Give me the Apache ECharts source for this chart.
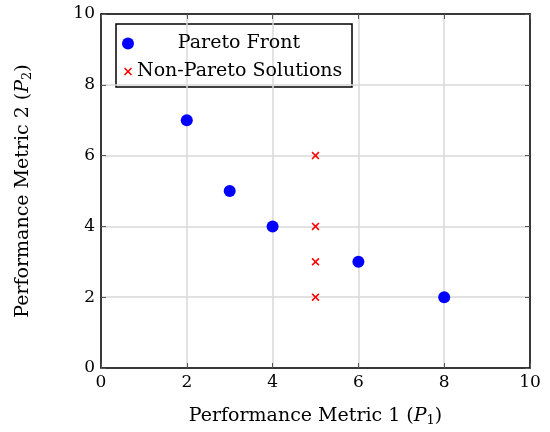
<!DOCTYPE html>
<html>
<head>
<meta charset="utf-8">
<script src="https://cdn.jsdelivr.net/npm/echarts@6/dist/echarts.min.js"></script>
<style>
html, body { margin: 0; padding: 0; background: #fff; }
#chart { width: 550px; height: 432px; }
</style>
</head>
<body>
<div id="chart"></div>
<script>
// 数据
var paretoFront = [[2, 7], [3, 5], [4, 4], [6, 3], [8, 2]];
var nonPareto = [[5, 6], [5, 4], [5, 3], [5, 2]];
var xTicks = [0, 2, 4, 6, 8, 10];
var yTicks = [0, 2, 4, 6, 8, 10];
var seriesNames = ['Pareto Front', 'Non-Pareto Solutions'];

var font = 'DejaVu Serif';
var crossPath = 'path://M0,1.4L1.4,0L5,3.6L8.6,0L10,1.4L6.4,5L10,8.6L8.6,10L5,6.4L1.4,10L0,8.6L3.6,5Z';

var nameStyle = {
    fontFamily: font, fontSize: 19, color: '#000',
    rich: {
        i: { fontFamily: font, fontStyle: 'italic', fontSize: 19, color: '#000' },
        s: { fontFamily: font, fontSize: 13, color: '#000', padding: [8, 0, 0, 0] }
    }
};

function frameAxis(pos) {
    return {
        type: 'value', position: pos,
        min: 0, max: 10, interval: 2,
        axisLine: { show: true, onZero: false, lineStyle: { color: '#000', width: 1.5 } },
        axisTick: { show: true, inside: true, length: 5, lineStyle: { color: '#555' } },
        axisLabel: { show: false },
        splitLine: { show: false }
    };
}

var myChart = echarts.init(document.getElementById('chart'));
var option = {
    animation: false,
    textStyle: { fontFamily: font },
    grid: { left: 101, right: 20, top: 14, bottom: 64 },
    legend: [{
        data: [{ name: seriesNames[0], icon: 'circle' }],
        left: 117, top: 29,
        itemWidth: 12, itemHeight: 12,
        formatter: '{a|' + seriesNames[0] + '}',
        textStyle: {
            fontFamily: font, fontSize: 19, color: '#000',
            rich: { a: { fontFamily: font, fontSize: 19, color: '#000', width: 200, align: 'center' } }
        }
    }, {
        data: [{ name: seriesNames[1], icon: crossPath }],
        left: 119, top: 57,
        itemWidth: 8, itemHeight: 8,
        textStyle: { fontFamily: font, fontSize: 19, color: '#000' }
    }],
    graphic: [{
        type: 'rect',
        shape: { x: 116, y: 24, width: 236, height: 63 },
        style: { fill: '#fff', stroke: '#000', lineWidth: 1.5 },
        z: 0
    }],
    xAxis: [{
        type: 'value',
        min: xTicks[0], max: xTicks[xTicks.length - 1], interval: 2,
        name: 'Performance Metric 1 ({i|P}{s|1})',
        nameLocation: 'middle',
        nameGap: 38,
        nameTextStyle: nameStyle,
        axisLine: { show: true, lineStyle: { color: '#000', width: 1.5 } },
        axisTick: { show: true, inside: true, length: 5, lineStyle: { color: '#555' } },
        axisLabel: { fontFamily: font, fontSize: 17, color: '#000', margin: 6 },
        splitLine: { show: true, lineStyle: { color: '#d9d9d9', width: 1.5 } }
    }, frameAxis('top')],
    yAxis: [{
        type: 'value',
        min: yTicks[0], max: yTicks[yTicks.length - 1], interval: 2,
        name: 'Performance Metric 2 ({i|P}{s|2})',
        nameLocation: 'middle',
        nameGap: 67,
        nameRotate: 90,
        nameTextStyle: nameStyle,
        axisLine: { show: true, lineStyle: { color: '#000', width: 1.5 } },
        axisTick: { show: true, inside: true, length: 5, lineStyle: { color: '#555' } },
        axisLabel: { fontFamily: font, fontSize: 17, color: '#000', margin: 6 },
        splitLine: { show: true, lineStyle: { color: '#d9d9d9', width: 1.5 } }
    }, frameAxis('right')],
    series: [{
        name: seriesNames[0],
        type: 'scatter',
        symbol: 'circle',
        symbolSize: 12,
        itemStyle: { color: '#0000ff', opacity: 1 },
        data: paretoFront,
        z: 3
    }, {
        name: seriesNames[1],
        type: 'scatter',
        symbol: crossPath,
        symbolSize: 8,
        itemStyle: { color: '#ff0000', opacity: 1 },
        data: nonPareto,
        z: 3
    }]
};
option && myChart.setOption(option);
</script>
</body>
</html>
